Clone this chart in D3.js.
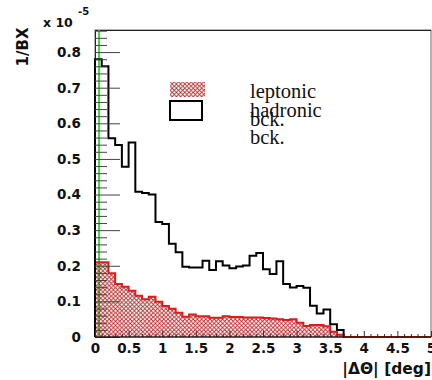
<!DOCTYPE html>
<html>
<head>
<meta charset="utf-8">
<script src="https://cdn.jsdelivr.net/npm/d3@7/dist/d3.min.js"></script>
<style>
  html, body { margin: 0; padding: 0; background: #fff; }
  svg { display: block; }
</style>
</head>
<body>
<svg id="chart" width="432" height="380"></svg>
<script>
// |ΔΘ| histograms, 0.1 deg bins from 0 to 5 deg, values in units of 1e-5 per BX
const binWidth = 0.1;
const hadronicBck = [
  0.78, 0.76, 0.558, 0.539, 0.478, 0.546, 0.408, 0.404, 0.400, 0.323,
  0.317, 0.262, 0.238, 0.197, 0.195, 0.195, 0.214, 0.188, 0.213, 0.201,
  0.193, 0.198, 0.201, 0.228, 0.236, 0.190, 0.177, 0.213, 0.149, 0.139,
  0.143, 0.138, 0.088, 0.066, 0.077, 0.036, 0.020, 0, 0, 0,
  0, 0, 0, 0, 0, 0, 0, 0, 0, 0
];
const leptonicBck = [
  0.210, 0.210, 0.179, 0.149, 0.141, 0.130, 0.116, 0.106, 0.113, 0.099,
  0.087, 0.079, 0.068, 0.057, 0.063, 0.058, 0.058, 0.054, 0.054, 0.058,
  0.056, 0.056, 0.055, 0.055, 0.055, 0.053, 0.052, 0.050, 0.048, 0.050,
  0.040, 0.031, 0.034, 0.034, 0.030, 0.015, 0.006, 0, 0, 0,
  0, 0, 0, 0, 0, 0, 0, 0, 0, 0
];
const cutValue = 0.06;           // vertical cut line position, deg
const xTicks = [0, 0.5, 1, 1.5, 2, 2.5, 3, 3.5, 4, 4.5, 5];
const xTickLabels = ["0", "0.5", "1", "1.5", "2", "2.5", "3", "3.5", "4", "4.5", "5"];
const yTicks = [0, 0.1, 0.2, 0.3, 0.4, 0.5, 0.6, 0.7, 0.8];
const yTickLabels = ["0", "0.1", "0.2", "0.3", "0.4", "0.5", "0.6", "0.7", "0.8"];
const legendLabels = [["leptonic", "bck."], ["hadronic", "bck."]];

const svg = d3.select("#chart");
const frame = { left: 95, top: 30, right: 431, bottom: 337 };

const x = d3.scaleLinear().domain([0, 5]).range([frame.left, frame.right]);
const y = d3.scaleLinear().domain([0, 0.862]).range([frame.bottom, frame.top]);

// Hatch pattern for the leptonic fill (transparent between the strokes)
const defs = svg.append("defs");
const pat = defs.append("pattern")
  .attr("id", "hatch")
  .attr("patternUnits", "userSpaceOnUse")
  .attr("width", 4.2).attr("height", 4.2);
pat.append("path")
  .attr("d", "M0,0 L4.2,4.2 M4.2,0 L0,4.2")
  .attr("stroke", "#b42828")
  .attr("stroke-width", 0.85)
  .attr("fill", "none");

// Frame
svg.append("rect")
  .attr("x", frame.left).attr("y", frame.top)
  .attr("width", frame.right - frame.left)
  .attr("height", frame.bottom - frame.top)
  .attr("fill", "#fff")
  .attr("stroke", "#666").attr("stroke-width", 1);
svg.append("line")
  .attr("x1", frame.left).attr("x2", frame.right)
  .attr("y1", frame.top + 0.5).attr("y2", frame.top + 0.5)
  .attr("stroke", "#222");
svg.append("line")
  .attr("x1", frame.left + 0.5).attr("x2", frame.left + 0.5)
  .attr("y1", frame.top).attr("y2", frame.bottom)
  .attr("stroke", "#222");

// Cut line
svg.append("line")
  .attr("x1", x(cutValue)).attr("x2", x(cutValue))
  .attr("y1", frame.top).attr("y2", frame.bottom)
  .attr("stroke", "#44d844").attr("stroke-width", 2);

function stepPoints(values) {
  const pts = values.map((v, i) => [i * binWidth, v]);
  pts.push([values.length * binWidth, values[values.length - 1]]);
  return pts;
}

// Leptonic background: hatched area + red outline
const lepPts = stepPoints(leptonicBck);
svg.append("path")
  .datum(lepPts)
  .attr("fill", "url(#hatch)")
  .attr("d", d3.area().curve(d3.curveStepAfter)
    .x(d => x(d[0])).y0(y(0)).y1(d => y(d[1])));
svg.append("path")
  .datum([[0, 0], ...lepPts, [5, 0]])
  .attr("fill", "none")
  .attr("stroke", "#e01b1b").attr("stroke-width", 2)
  .attr("d", d3.line().curve(d3.curveStepAfter)
    .x(d => x(d[0])).y(d => y(d[1])));

// Hadronic background: black outline
const hadPts = stepPoints(hadronicBck);
const lastNonZero = hadronicBck.length - 1 - [...hadronicBck].reverse().findIndex(v => v > 0);
const hadDrawn = hadPts.slice(0, lastNonZero + 1).concat([[(lastNonZero + 1) * binWidth, hadronicBck[lastNonZero]], [(lastNonZero + 1) * binWidth, 0]]);
svg.append("path")
  .datum([[0, 0], ...hadDrawn])
  .attr("fill", "none")
  .attr("stroke", "#000").attr("stroke-width", 2)
  .attr("d", d3.line().curve(d3.curveStepAfter)
    .x(d => x(d[0])).y(d => y(d[1])));
// redraw the leptonic zero run on top of the black baseline
svg.append("line")
  .attr("x1", x((lastNonZero + 1) * binWidth)).attr("x2", x(5))
  .attr("y1", y(0)).attr("y2", y(0))
  .attr("stroke", "#e01b1b").attr("stroke-width", 2);

// Y axis: long major ticks every 0.1, minor every 0.02, drawn inward
const yAxis = d3.axisRight(y)
  .tickValues(d3.range(0, 0.861, 0.02).map(v => +v.toFixed(2)))
  .tickSize(0).tickFormat("");
const yG = svg.append("g").attr("transform", `translate(${frame.left},0)`).call(yAxis);
yG.select(".domain").remove();
yG.selectAll(".tick line")
  .attr("x2", d => (Math.round(d * 100) % 10 === 0) ? 25 : 12)
  .attr("stroke", "#444");

const yLab = d3.axisLeft(y).tickValues(yTicks).tickSize(0)
  .tickFormat((d, i) => yTickLabels[i]).tickPadding(14);
const yLG = svg.append("g").attr("transform", `translate(${frame.left},0)`).call(yLab);
yLG.select(".domain").remove();
yLG.selectAll("text")
  .attr("font-family", "DejaVu Sans").attr("font-weight", "bold")
  .attr("font-size", 13.5).attr("fill", "#111");

// X axis: ticks pointing up, major every 0.5, minor every 0.1
const xAxis = d3.axisTop(x)
  .tickValues(d3.range(0, 5.001, 0.1).map(v => +v.toFixed(1)))
  .tickSize(0).tickFormat("");
const xG = svg.append("g").attr("transform", `translate(0,${frame.bottom})`).call(xAxis);
xG.select(".domain").remove();
xG.selectAll(".tick line")
  .attr("y2", d => (Math.round(d * 10) % 5 === 0) ? -6 : -3)
  .attr("stroke", "#333");
svg.append("line")
  .attr("x1", frame.left).attr("x2", frame.right)
  .attr("y1", frame.bottom).attr("y2", frame.bottom)
  .attr("stroke", "#000").attr("stroke-width", 1);

const xLab = d3.axisBottom(x).tickValues(xTicks).tickSize(0)
  .tickFormat((d, i) => xTickLabels[i]).tickPadding(6);
const xLG = svg.append("g").attr("transform", `translate(0,${frame.bottom})`).call(xLab);
xLG.select(".domain").remove();
xLG.selectAll("text")
  .attr("font-family", "DejaVu Sans").attr("font-weight", "bold")
  .attr("font-size", 13.5).attr("fill", "#111");

// Axis titles
svg.append("text")
  .attr("x", 431).attr("y", 374)
  .attr("text-anchor", "end")
  .attr("font-family", "DejaVu Sans").attr("font-weight", "bold")
  .attr("font-size", 15.5).attr("fill", "#111")
  .text("|ΔΘ| [deg]");
svg.append("text")
  .attr("transform", "translate(28,47) rotate(-90)")
  .attr("text-anchor", "middle")
  .attr("font-family", "DejaVu Sans").attr("font-weight", "bold")
  .attr("font-size", 15).attr("fill", "#111")
  .text("1/BX");

// Exponent
svg.append("text")
  .attr("x", 43).attr("y", 27)
  .attr("font-family", "DejaVu Sans").attr("font-weight", "bold")
  .attr("font-size", 12.5).attr("fill", "#111")
  .text("x 10");
svg.append("text")
  .attr("x", 78).attr("y", 15)
  .attr("font-family", "DejaVu Sans").attr("font-weight", "bold")
  .attr("font-size", 10).attr("fill", "#111")
  .text("-5");

// Legend
svg.append("rect")
  .attr("x", 170).attr("y", 82).attr("width", 35).attr("height", 15)
  .attr("fill", "url(#hatch)");
svg.append("rect")
  .attr("x", 170).attr("y", 101).attr("width", 32).attr("height", 19)
  .attr("fill", "none").attr("stroke", "#000").attr("stroke-width", 2);

const legendText = [
  { t: legendLabels[0][0], yb: 98 },
  { t: legendLabels[1][0], yb: 117 },
  { t: legendLabels[0][1], yb: 126 },
  { t: legendLabels[1][1], yb: 144 }
];
svg.selectAll(".leg").data(legendText).enter().append("text")
  .attr("class", "leg")
  .attr("x", 250).attr("y", d => d.yb)
  .attr("font-family", "Liberation Serif")
  .attr("font-size", 20.5).attr("fill", "#111")
  .text(d => d.t);
</script>
</body>
</html>
